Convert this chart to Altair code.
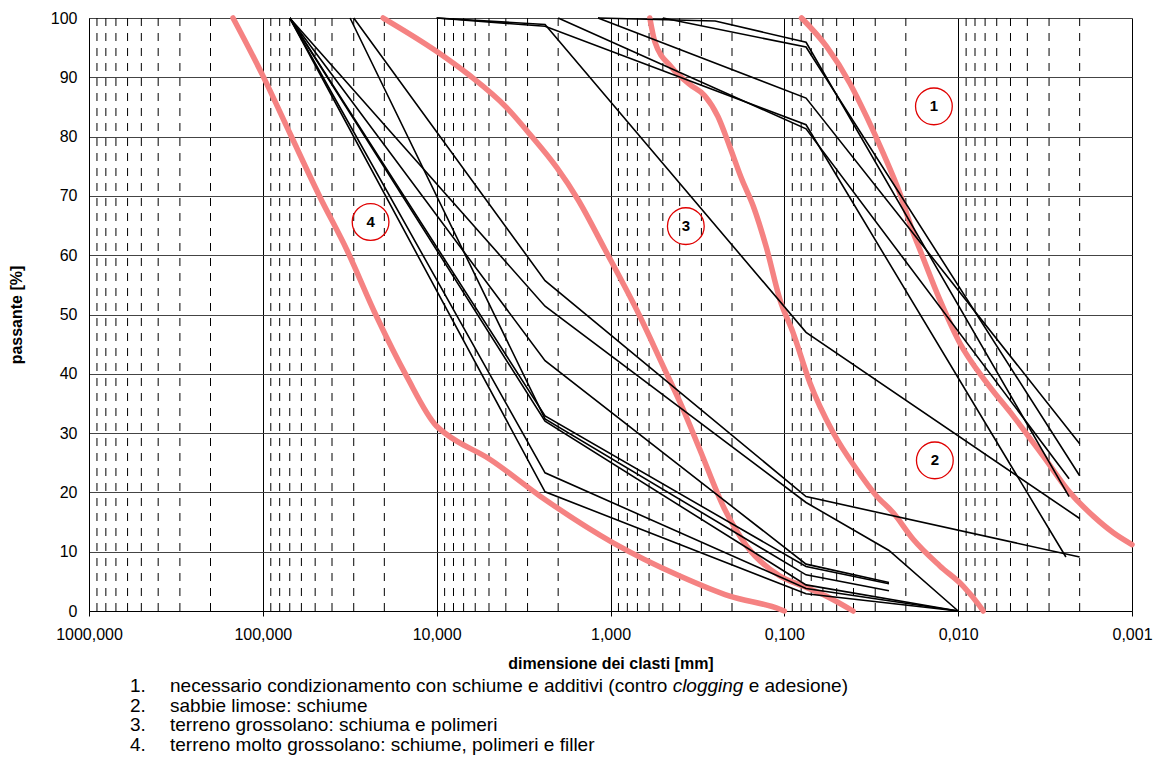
import altair as alt
import pandas as pd

# ---------------- data (grain size in mm, passing in %) ----------------
# black grading curves
C1_mm = [30, 2.38, 0.075, 0.002];            C1_pct = [100, 55.7, 19.3, 9.1]
C2_mm = [70, 2.38, 0.075, 0.025, 0.01];      C2_pct = [100, 51.4, 18.3, 10.2, 0]
C3_mm = [70, 2.38, 0.075, 0.025];            C3_pct = [100, 42.2, 7.9, 4.8]
C4_mm = [70, 2.38, 0.075, 0.025];            C4_pct = [100, 32.9, 7.5, 4.6]
C5_mm = [31.5, 2.38, 0.075, 0.025];          C5_pct = [100, 32.4, 6.1, 3.4]
C6_mm = [70, 2.38, 0.075, 0.01];             C6_pct = [100, 32.0, 4.4, 0]
C7_mm = [70, 2.38, 0.075, 0.01];             C7_pct = [100, 23.3, 3.8, 0]
C8_mm = [70, 2.38, 0.075, 0.01];             C8_pct = [100, 20.1, 2.9, 0]
F1_mm = [10, 2.38, 0.075, 0.002];            F1_pct = [100, 98.9, 47.0, 15.6]
F2_mm = [1.18, 0.25, 0.075, 0.0023];         F2_pct = [100, 99.5, 95.9, 19.3]
F3_mm = [0.5, 0.075, 0.002];                 F3_pct = [100, 95.1, 22.8]
F4_mm = [1.18, 0.075, 0.002];                F4_pct = [100, 86.5, 28.2]
F5_mm = [10, 2.38, 0.075, 0.0024];           F5_pct = [100, 98.6, 82.0, 9.1]
F6_mm = [2.0, 0.075, 0.0023];                F6_pct = [100, 81.3, 22.3]

# red boundary curves
R4_mm = [148.4, 99.7, 70.0, 47.1, 33.0, 22.2, 14.9, 10.03, 8.78, 4.95, 2.55, 0.966, 0.399, 0.206, 0.106, 0.1]
R4_pct = [100, 90.2, 80.6, 69.9, 61.0, 49.7, 39.6, 31.2, 29.8, 25.6, 19.4, 11.5, 5.9, 2.5, 0.3, 0]
R3_mm = [20.3, 10.03, 6.45, 3.96, 2.91, 2.04, 1.54, 1.078, 0.678, 0.498, 0.382, 0.306, 0.220, 0.165, 0.106, 0.078, 0.0572, 0.0402]
R3_pct = [100, 94.4, 90.3, 84.9, 80.4, 74.8, 69.4, 61.0, 49.7, 41.3, 34.0, 27.2, 17.1, 11.0, 5.9, 4.2, 2.5, 0]
R2_mm = [0.594, 0.556, 0.446, 0.350, 0.287, 0.241, 0.206, 0.1756, 0.151, 0.1266, 0.106, 0.089, 0.0713, 0.0524, 0.0384, 0.0295, 0.0237, 0.01815, 0.01274, 0.00936, 0.0075, 0.00718]
R2_pct = [100, 96.0, 91.7, 88.8, 86.9, 83.4, 78.3, 72.8, 68.3, 61.2, 52.5, 46.9, 38.5, 30.1, 23.9, 19.4, 16.6, 12.1, 7.6, 4.2, 0.8, 0]
R1_mm = [0.0796, 0.0572, 0.0420, 0.0337, 0.0270, 0.0217, 0.01815, 0.01664, 0.01276, 0.00979, 0.00686, 0.00483, 0.00324, 0.00228, 0.00167, 0.00128, 0.001]
R1_pct = [100, 95.2, 89.0, 83.4, 77.2, 70.5, 63.8, 61.0, 52.5, 45.2, 38.5, 32.9, 26.1, 20.0, 16.0, 13.2, 11.2]

# numbered zone markers
zone_labels = ["1", "2", "3", "4"]
zone_mm = [0.01379, 0.01362, 0.3687, 24.0]
zone_pct = [85.1, 25.4, 64.9, 65.6]

# axis ticks
x_major = [1000, 100, 10, 1, 0.1, 0.01, 0.001]
x_minor_factors = [2, 3, 4, 5, 6, 7, 8, 9]
x_minor_decades = [100, 10, 1, 0.1, 0.01, 0.001]
y_ticks = [0, 10, 20, 30, 40, 50, 60, 70, 80, 90, 100]

legend_nums = ["1.", "2.", "3.", "4."]
legend_texts = [
    ["necessario condizionamento con schiume e additivi (contro ", "clogging", " e adesione)"],
    ["sabbie limose: schiume"],
    ["terreno grossolano: schiuma e polimeri"],
    ["terreno molto grossolano: schiume, polimeri e filler"],
]

# ---------------- build tables ----------------
black = {"C1": (C1_mm, C1_pct), "C2": (C2_mm, C2_pct), "C3": (C3_mm, C3_pct),
         "C4": (C4_mm, C4_pct), "C5": (C5_mm, C5_pct), "C6": (C6_mm, C6_pct),
         "C7": (C7_mm, C7_pct), "C8": (C8_mm, C8_pct), "F1": (F1_mm, F1_pct),
         "F2": (F2_mm, F2_pct), "F3": (F3_mm, F3_pct), "F4": (F4_mm, F4_pct),
         "F5": (F5_mm, F5_pct), "F6": (F6_mm, F6_pct)}
red = {"R1": (R1_mm, R1_pct), "R2": (R2_mm, R2_pct), "R3": (R3_mm, R3_pct), "R4": (R4_mm, R4_pct)}


def to_df(d):
    rows = []
    for name, (xs, ys) in d.items():
        for i, (a, b) in enumerate(zip(xs, ys)):
            rows.append({"s": name, "mm": a, "pct": b, "i": i})
    return pd.DataFrame(rows)


black_df = to_df(black)
red_df = to_df(red)
minor_df = pd.DataFrame({"v": [f * d for d in x_minor_decades for f in x_minor_factors]})
zone_df = pd.DataFrame({"lab": zone_labels, "mm": zone_mm, "pct": zone_pct})

FONT = "Liberation Sans"
W, H = 1043, 593

xscale = alt.Scale(type="log", domain=[0.001, 1000], reverse=True, nice=False)
yscale = alt.Scale(domain=[0, 100], nice=False, zero=False)

xaxis = alt.Axis(values=x_major, labelExpr="replace(format(datum.value, '.3f'), '.', ',')",
                 title="dimensione dei clasti [mm]", grid=True, gridColor="#000000", gridWidth=1,
                 tickSize=5, tickColor="#000000", domainColor="#000000", labelFontSize=16,
                 labelColor="#000000", labelPadding=10, labelFont=FONT,
                 titleFont=FONT, titleFontSize=16, titleFontWeight="bold", titleColor="#000000",
                 titlePadding=13, labelFlush=False)
yaxis = alt.Axis(values=y_ticks, title="passante [%]", grid=True, gridColor="#444444", gridWidth=1,
                 tickSize=0, domainColor="#000000", labelFontSize=16, labelColor="#000000",
                 labelPadding=12, labelFont=FONT, titleFont=FONT, titleFontSize=16,
                 titleFontWeight="bold", titleColor="#000000", titlePadding=26)

X = alt.X("mm:Q", scale=xscale, axis=xaxis)
Y = alt.Y("pct:Q", scale=yscale, axis=yaxis)

minor = alt.Chart(minor_df).mark_rule(color="#000000", strokeWidth=1, strokeDash=[8, 7]).encode(
    x=alt.X("v:Q", scale=xscale, axis=xaxis)
)

reds = alt.Chart(red_df).mark_line(color="#F58282", strokeWidth=5.5, strokeJoin="round",
                                   strokeCap="round", interpolate="monotone").encode(
    x=X, y=Y, detail="s:N", order="i:Q"
)

blacks = alt.Chart(black_df).mark_line(color="#000000", strokeWidth=1.6).encode(
    x=X, y=Y, detail="s:N", order="i:Q"
)

circles = alt.Chart(zone_df).mark_point(shape="circle", filled=False, color="#E00000",
                                        size=1350, strokeWidth=1.3, opacity=1).encode(x=X, y=Y)
nums = alt.Chart(zone_df).mark_text(font=FONT, fontSize=15, fontWeight="bold", color="#000000").encode(
    x=X, y=Y, text="lab:N")

# ---------------- legend text below the chart ----------------
ARIAL = {' ': 278, 'a': 556, 'b': 556, 'c': 500, 'd': 556, 'e': 556, 'f': 278, 'g': 556, 'h': 556,
         'i': 222, 'l': 222, 'm': 833, 'n': 556, 'o': 556, 'p': 556, 'r': 333, 's': 500, 't': 278,
         'u': 556, 'v': 500, 'z': 500, '(': 333, ')': 333, ':': 278, ',': 278}
LEG_SIZE = 19


def twidth(s):
    return sum(ARIAL.get(c, 556) for c in s) / 1000 * LEG_SIZE


leg_x_num = 41
leg_x_text = 81
leg_y = [668, 688, 707, 727]
legend_layers = []
for k, (num, parts) in enumerate(zip(legend_nums, legend_texts)):
    legend_layers.append(
        alt.Chart(pd.DataFrame({"t": [num]})).mark_text(
            font=FONT, fontSize=LEG_SIZE, align="left", baseline="middle", color="#000000"
        ).encode(x=alt.value(leg_x_num), y=alt.value(leg_y[k]), text="t:N")
    )
    xpos = leg_x_text
    for j, part in enumerate(parts):
        lead = len(part) - len(part.lstrip(" "))
        shown = part.strip(" ")
        legend_layers.append(
            alt.Chart(pd.DataFrame({"t": [shown]})).mark_text(
                font=FONT, fontSize=LEG_SIZE, align="left", baseline="middle", color="#000000",
                fontStyle="italic" if part == "clogging" else "normal"
            ).encode(x=alt.value(xpos + twidth(" " * lead)), y=alt.value(leg_y[k]), text="t:N")
        )
        xpos += twidth(part)

chart = alt.layer(minor, reds, blacks, circles, nums, *legend_layers).properties(
    width=W, height=H,
    autosize=alt.AutoSizeParams(type="none"),
    padding={"left": 89, "top": 18, "right": 25, "bottom": 167},
).configure_view(stroke="#000000", strokeWidth=1).configure(background="#ffffff")

chart.save("out.html", embed_options={"renderer": "svg", "actions": False})
